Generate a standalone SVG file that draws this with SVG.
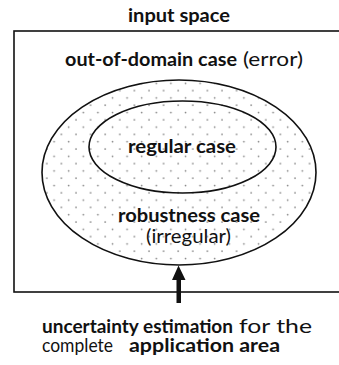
<svg xmlns="http://www.w3.org/2000/svg" width="339" height="365" viewBox="0 0 339 365">
<style>
text{font-family:Lato,"Liberation Sans",Arial,sans-serif;font-size:19.5px;fill:#111}
.b{font-weight:bold}
.t{font-size:18px}
.s{font-size:19px}
.shape{fill:none;stroke:#111;stroke-width:1.6}
</style>
<defs>
<pattern id="dots" patternUnits="userSpaceOnUse" x="0" y="0" width="14.6" height="14.6">
<rect x="0" y="0" width="14.6" height="14.6" fill="#fff"/>
<circle cx="3" cy="3" r="0.85" fill="#808080"/>
<circle cx="10.3" cy="10.3" r="0.85" fill="#808080"/>
</pattern>
</defs>
<rect width="339" height="365" fill="#fff"/>
<g id="input-space">
<rect class="shape" x="14" y="31" width="340" height="261" stroke-width="1.8"/>
<text class="b t" x="128" y="22" textLength="102" lengthAdjust="spacingAndGlyphs">input space</text>
<text class="b" x="65" y="66" textLength="172" lengthAdjust="spacingAndGlyphs">out-of-domain case</text>
<text x="243" y="66" textLength="60" lengthAdjust="spacingAndGlyphs">(error)</text>
</g>
<g id="robustness-case">
<ellipse cx="179" cy="172.5" rx="137" ry="92.5" fill="url(#dots)" stroke="#111" stroke-width="1.6"/>
<text class="b" x="118" y="222" textLength="142" lengthAdjust="spacingAndGlyphs">robustness case</text>
<text x="146" y="243" textLength="85" lengthAdjust="spacingAndGlyphs">(irregular)</text>
</g>
<g id="regular-case">
<ellipse cx="182.5" cy="147" rx="93.5" ry="46" fill="url(#dots)" stroke="#111" stroke-width="1.6"/>
<text class="b" x="128" y="153" textLength="108" lengthAdjust="spacingAndGlyphs">regular case</text>
</g>
<g id="connectors">
<path d="M176.5 303 V280 H172 L178.5 265.5 L185.5 280 H181 V303 Z" fill="#111"/>
</g>
<g id="uncertainty">
<text class="b s" x="42" y="333" textLength="191" lengthAdjust="spacingAndGlyphs">uncertainty estimation</text>
<text x="239" y="333" font-size="21" textLength="73" lengthAdjust="spacingAndGlyphs">for the</text>
<text class="s" x="42" y="352" textLength="71" lengthAdjust="spacingAndGlyphs">complete</text>
<text class="b s" x="129" y="352" textLength="151" lengthAdjust="spacingAndGlyphs">application area</text>
</g>
</svg>
